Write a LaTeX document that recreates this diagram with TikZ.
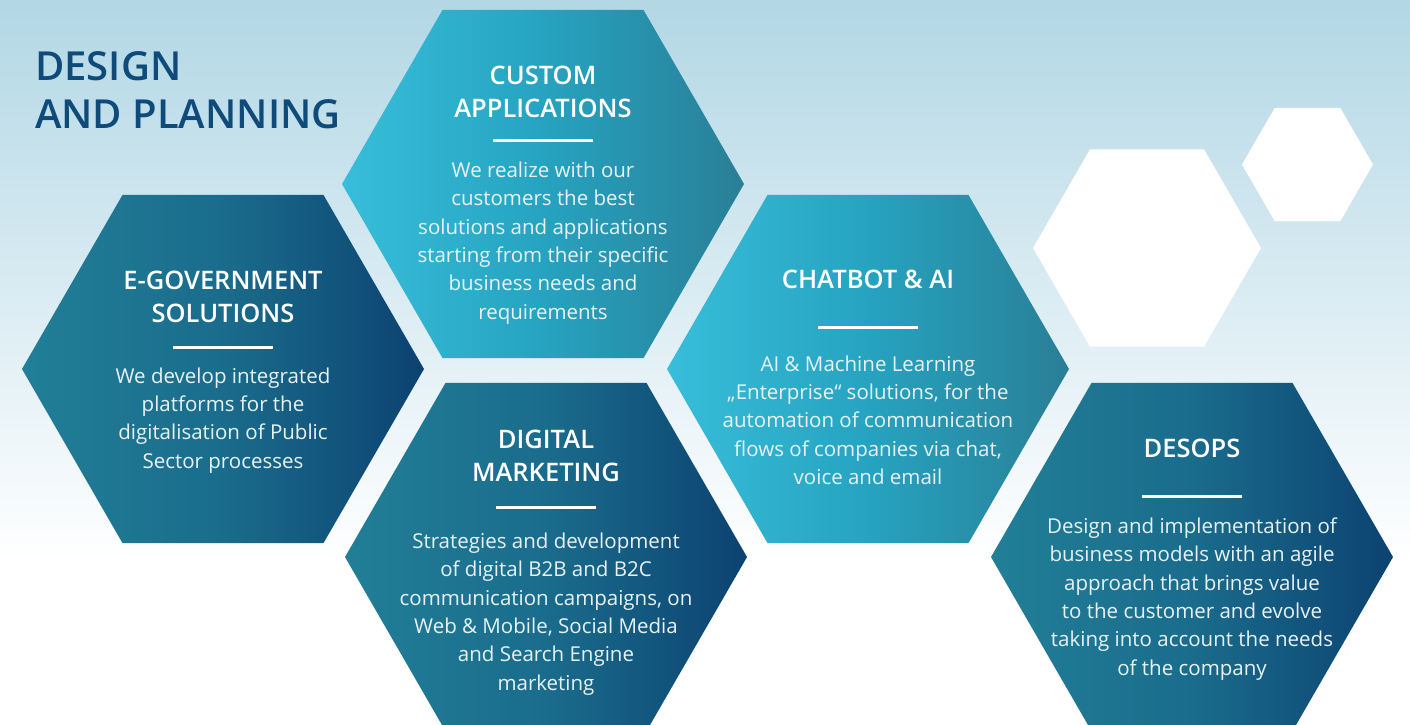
\documentclass[tikz,border=0pt]{standalone}
\usepackage{fontspec}
\setmainfont{Open Sans}
\IfFontExistsTF{Open Sans SemiBold}{\newfontfamily\hfont{Open Sans SemiBold}}{%
  \IfFontExistsTF{Open Sans Semibold}{\newfontfamily\hfont{Open Sans Semibold}}{\def\hfont{\bfseries}}}
\usetikzlibrary{shapes.geometric}
\definecolor{bgtop}{RGB}{178,215,229}
\definecolor{dL}{RGB}{33,127,151}
\definecolor{dM}{RGB}{26,108,140}
\definecolor{dR}{RGB}{12,66,112}
\definecolor{lL}{RGB}{55,190,218}
\definecolor{lM}{RGB}{38,163,192}
\definecolor{lR}{RGB}{42,126,150}
\definecolor{titlec}{RGB}{14,74,122}
\definecolor{bodyc}{RGB}{232,242,246}
\tikzset{
  hexbase/.style={regular polygon, regular polygon sides=6, inner sep=0pt, outer sep=0pt, draw=none},
  hexdark/.style={hexbase, minimum size=402pt, left color=dL, right color=dR, middle color=dM},
  hexlight/.style={hexbase, minimum size=402pt, left color=lL, right color=lR, middle color=lM},
  hexwhite/.style={hexbase, fill=white},
  head/.style={font=\hfont\fontsize{25.5}{33}\selectfont, text=white, align=center, inner sep=0pt, anchor=base},
  body/.style={font=\fontsize{20.5}{28.3}\selectfont, text=bodyc, align=center, inner sep=0pt, anchor=base},
  divider/.style={draw=white, line width=3pt},
}
\begin{document}
\begin{tikzpicture}[x=1pt, y=-1pt]
\useasboundingbox (0,0) rectangle (1410,724);
\clip (0,0) rectangle (1410,724);
% background
\shade[top color=bgtop, bottom color=white] (0,0) rectangle (1410,562);
\fill[white] (0,561) rectangle (1410,724);

% title (base anchor = baseline of the last line)
\node[font=\hfont\fontsize{40}{48}\selectfont, text=titlec, align=left, inner sep=0pt, anchor=base west] (title) at (35,128) {DESIGN\\AND PLANNING};

% hexagons
\node[hexdark]  (egov) at (223,369) {};
\node[hexlight] (cust) at (543,184) {};
\node[hexlight] (chat) at (868,369) {};
\node[hexdark]  (digi) at (546,557) {};
\node[hexdark]  (devo) at (1192,557) {};
\node[hexwhite, minimum size=228pt] (w1) at (1147,248) {};
\node[hexwhite, minimum size=131pt] (w2) at (1307.5,164.5) {};

% E-government
\node[head] (egovH) at (223,322) {E-GOVERNMENT\\SOLUTIONS};
\draw[divider] (173,347) -- (273,347);
\node[body] (egovB) at (223,468) {We develop integrated\\platforms for the\\digitalisation of Public\\Sector processes};

% Custom applications
\node[head] (custH) at (543,117) {CUSTOM\\APPLICATIONS};
\draw[divider] (493,140) -- (593,140);
\node[body] (custB) at (543,319) {We realize with our\\customers the best\\solutions and applications\\starting from their specific\\business needs and\\requirements};

% Chatbot
\node[head] (chatH) at (868,288) {CHATBOT \& AI};
\draw[divider] (818,327) -- (918,327);
\node[body] (chatB) at (868,484.5) {AI \& Machine Learning\\„Enterprise“ solutions, for the\\automation of communication\\flows of companies via chat,\\voice and email};

% Digital marketing
\node[head] (digiH) at (546,481) {DIGITAL\\MARKETING};
\draw[divider] (496,507) -- (596,507);
\node[body] (digiB) at (546,690) {Strategies and development\\of digital B2B and B2C\\communication campaigns, on\\Web \& Mobile, Social Media\\and Search Engine\\marketing};

% DesOps
\node[head] (devoH) at (1192,457) {DESOPS};
\draw[divider] (1142,496) -- (1242,496);
\node[body] (devoB) at (1192,675) {Design and implementation of\\business models with an agile\\approach that brings value\\to the customer and evolve\\taking into account the needs\\of the company};
\end{tikzpicture}
\end{document}
